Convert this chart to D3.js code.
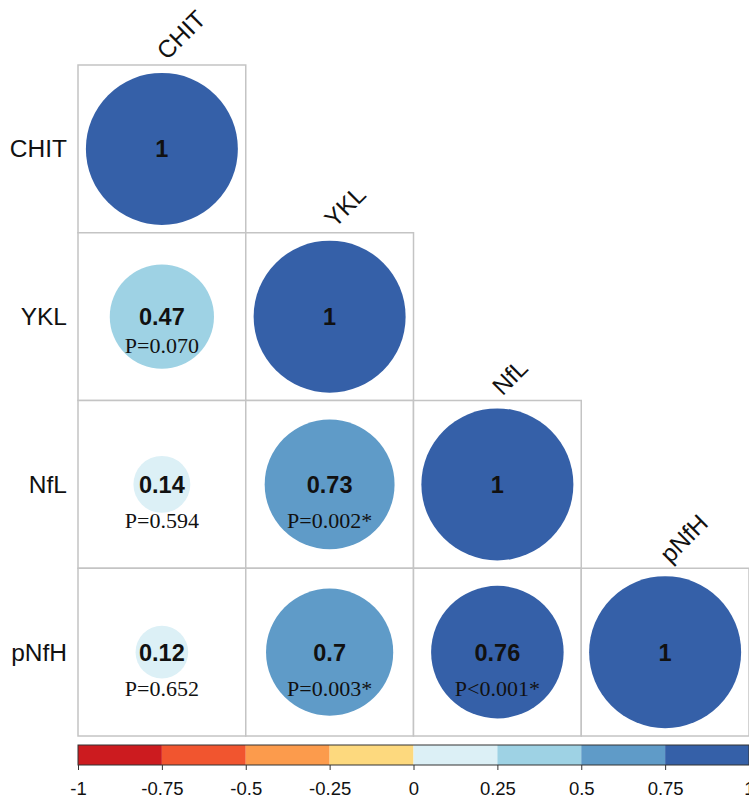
<!DOCTYPE html>
<html>
<head>
<meta charset="utf-8">
<script src="https://cdn.jsdelivr.net/npm/d3@7"></script>
<style>
  html, body { margin: 0; padding: 0; background: #fff; }
  svg { display: block; }
</style>
</head>
<body>
<svg id="chart" width="749" height="801"></svg>
<script>
// Variables of the correlation matrix
const variables = ["CHIT", "YKL", "NfL", "pNfH"];

// Lower-triangular correlation coefficients (row i, columns 0..i)
const rRows = [
  [1],
  [0.47, 1],
  [0.14, 0.73, 1],
  [0.12, 0.70, 0.76, 1]
];

// P-value annotations for the same cells (none on the diagonal)
const pRows = [
  [null],
  ["P=0.070", null],
  ["P=0.594", "P=0.002*", null],
  ["P=0.652", "P=0.003*", "P<0.001*", null]
];

// Colour bar bins
const binBreaks = [-0.75, -0.5, -0.25, 0, 0.25, 0.5, 0.75];
const binColors = ["#cc1b1f", "#f1552f", "#fc9b4c", "#fdd97e",
                   "#dcf0f6", "#9ed2e4", "#5f9bc8", "#3560a8"];
const barTicks = [-1, -0.75, -0.5, -0.25, 0, 0.25, 0.5, 0.75, 1];
const barTickLabels = ["-1", "-0.75", "-0.5", "-0.25", "0", "0.25", "0.5", "0.75", "1"];

const svg = d3.select("#chart");

const x = d3.scaleBand().domain(variables).range([78, 749]);
const y = d3.scaleBand().domain(variables).range([65, 736]);
const color = d3.scaleThreshold().domain(binBreaks).range(binColors);
const radius = d3.scaleSqrt().domain([0, 1]).range([0, 76]);

const cells = [];
rRows.forEach((row, i) => row.forEach((r, j) => {
  cells.push({ i, j, r, p: pRows[i][j], row: variables[i], col: variables[j] });
}));

const sansFont = "'Liberation Sans', Arial, sans-serif";
const serifFont = "'Liberation Serif', 'Times New Roman', serif";

// Cell frames
svg.append("g").selectAll("rect").data(cells).join("rect")
  .attr("x", d => x(d.col))
  .attr("y", d => y(d.row))
  .attr("width", x.bandwidth())
  .attr("height", y.bandwidth())
  .attr("fill", "#fff")
  .attr("stroke", "#c4c4c4")
  .attr("stroke-width", 1.5);

const cx = d => x(d.col) + x.bandwidth() / 2;
const cy = d => y(d.row) + y.bandwidth() / 2;

// Circles sized by |r|
svg.append("g").selectAll("circle").data(cells).join("circle")
  .attr("cx", cx)
  .attr("cy", cy)
  .attr("r", d => radius(Math.abs(d.r)))
  .attr("fill", d => color(d.r));

// Coefficient labels
svg.append("g").selectAll("text").data(cells).join("text")
  .attr("x", cx)
  .attr("y", d => cy(d) + 8.5)
  .attr("text-anchor", "middle")
  .attr("font-family", sansFont)
  .attr("font-weight", "bold")
  .attr("font-size", 23.5)
  .attr("fill", "#111")
  .text(d => String(d.r));

// P-value labels
svg.append("g").selectAll("text").data(cells.filter(d => d.p)).join("text")
  .attr("x", cx)
  .attr("y", d => cy(d) + (d.i === 1 ? 36 : 44))
  .attr("text-anchor", "middle")
  .attr("font-family", serifFont)
  .attr("font-size", 22)
  .attr("fill", "#111")
  .text(d => d.p);

// Row labels
svg.append("g").selectAll("text").data(variables).join("text")
  .attr("x", 67)
  .attr("y", d => y(d) + y.bandwidth() / 2 + 8.5)
  .attr("text-anchor", "end")
  .attr("font-family", sansFont)
  .attr("font-size", 24.5)
  .attr("fill", "#111")
  .text(d => d);

// Column labels on the diagonal, rotated
svg.append("g").selectAll("text").data(variables).join("text")
  .attr("transform", d => `translate(${x(d) + x.bandwidth() / 2 + 5},${y(d) - 4}) rotate(-45)`)
  .attr("text-anchor", "start")
  .attr("font-family", sansFont)
  .attr("font-size", 24.5)
  .attr("fill", "#111")
  .text(d => d);

// Colour bar
const bx = d3.scaleLinear().domain([-1, 1]).range([78, 749]);
const barTop = 745, barH = 20;
const bins = binColors.map((c, k) => ({ c, lo: k === 0 ? -1 : binBreaks[k - 1], hi: k === binColors.length - 1 ? 1 : binBreaks[k] }));

const bar = svg.append("g");
bar.selectAll("rect.bin").data(bins).join("rect")
  .attr("class", "bin")
  .attr("x", d => bx(d.lo))
  .attr("y", barTop)
  .attr("width", d => bx(d.hi) - bx(d.lo))
  .attr("height", barH)
  .attr("fill", d => d.c);
bar.append("rect")
  .attr("x", bx(-1))
  .attr("y", barTop)
  .attr("width", bx(1) - bx(-1))
  .attr("height", barH)
  .attr("fill", "none")
  .attr("stroke", "#333")
  .attr("stroke-width", 1);

const axis = d3.axisBottom(bx)
  .tickValues(barTicks)
  .tickFormat((d, k) => barTickLabels[k])
  .tickSizeOuter(0)
  .tickSize(5)
  .tickPadding(12);
const ax = svg.append("g")
  .attr("transform", `translate(0,${barTop + barH})`)
  .call(axis);
ax.select(".domain").remove();
ax.selectAll(".tick line").attr("stroke", "#333");
ax.selectAll(".tick text")
  .attr("font-family", sansFont)
  .attr("font-size", 18.5)
  .attr("fill", "#111");
</script>
</body>
</html>
